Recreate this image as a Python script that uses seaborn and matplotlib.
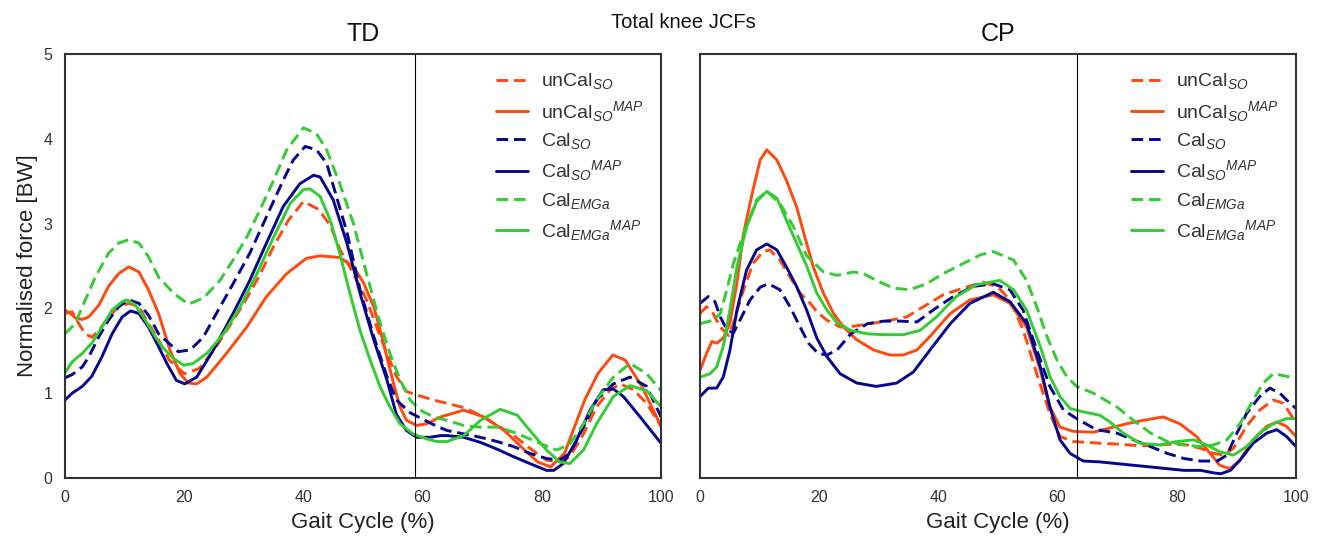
import pandas as pd
import seaborn as sns
import matplotlib.pyplot as plt

# series order as in the legend
SERIES = ['unCal_SO', 'unCal_SO_MAP', 'Cal_SO', 'Cal_SO_MAP', 'Cal_EMGa', 'Cal_EMGa_MAP']
LABELS = [r'unCal$_{SO}$', r'unCal$_{SO}$$^{MAP}$', r'Cal$_{SO}$', r'Cal$_{SO}$$^{MAP}$',
          r'Cal$_{EMGa}$', r'Cal$_{EMGa}$$^{MAP}$']
COLORS = ['#ff4a0f', '#ff4a0f', '#06068f', '#06068f', '#33cc33', '#33cc33']
DASHED = [True, False, True, False, True, False]

PANELS = ['TD', 'CP']
TOE_OFF = [58.8, 63.3]
XTICKS = [0, 20, 40, 60, 80, 100]
YTICKS = [0, 1, 2, 3, 4, 5]

# ---- TD ----
td_uncal_so_x = [0, 1.2, 2.3, 3.4, 4.5, 5.7, 7.3, 9, 10.7, 12.4, 14, 15.7, 17.5, 20, 22.5, 25, 27.5, 30, 32.5, 35,
                 37.5, 40, 42.5, 44.5, 46.1, 48.4, 50.6, 52.3, 54, 55.6, 57.3, 59, 61.8, 64.1, 66.9, 69.7, 72.5,
                 75.3, 78, 80.8, 83, 84.7, 87, 89.2, 91.5, 93.1, 95.4, 97.6, 100]
td_uncal_so_y = [1.94, 1.96, 1.82, 1.70, 1.66, 1.74, 1.90, 2.02, 2.06, 2.02, 1.82, 1.63, 1.39, 1.23, 1.29, 1.51,
                 1.78, 2.06, 2.37, 2.73, 3.04, 3.26, 3.17, 2.98, 2.70, 2.41, 2.10, 1.78, 1.47, 1.20, 1.02, 0.98,
                 0.92, 0.88, 0.83, 0.74, 0.62, 0.50, 0.35, 0.21, 0.19, 0.25, 0.52, 0.84, 1.04, 1.11, 1.04, 0.88, 0.61]

td_uncal_map_x = [0, 0.9, 1.7, 2.9, 4, 5.7, 7.3, 9, 10.7, 12.4, 14, 15.7, 17.6, 19.3, 20.7, 22.1, 23.8, 27.1,
                  30.5, 33.8, 37.2, 40.5, 42.8, 46.1, 48.4, 50.1, 51.8, 52.9, 54, 55.1, 56.2, 57.3, 59, 60.7, 63,
                  66.9, 70.3, 73.7, 77.1, 79.3, 81.5, 83.8, 87.2, 89.4, 91.9, 94, 96.8, 100]
td_uncal_map_y = [1.98, 1.94, 1.89, 1.87, 1.90, 2.04, 2.26, 2.41, 2.49, 2.43, 2.22, 1.94, 1.51, 1.23, 1.12, 1.11,
                  1.19, 1.47, 1.78, 2.14, 2.41, 2.59, 2.62, 2.60, 2.49, 2.30, 2.02, 1.74, 1.43, 1.12, 0.84, 0.68,
                  0.62, 0.64, 0.72, 0.80, 0.72, 0.56, 0.33, 0.19, 0.13, 0.29, 0.92, 1.23, 1.45, 1.39, 1.08, 0.61]

td_cal_so_x = [0, 1.2, 2.9, 4, 5.7, 7.3, 9, 10.7, 12.4, 14, 15.7, 17.1, 19, 21, 23.2, 25.4, 28.2, 31, 33.8, 36.6,
               38.3, 40.3, 42.2, 43.9, 45, 47.3, 49.5, 51.8, 54, 55.6, 57.9, 60.1, 62.4, 64.1, 66.9, 69.7, 72.5,
               75.3, 78, 80.8, 83, 84.7, 87, 89.2, 92, 94.8, 97.6, 100]
td_cal_so_y = [1.18, 1.22, 1.31, 1.43, 1.67, 1.86, 2.02, 2.10, 2.06, 1.92, 1.70, 1.61, 1.49, 1.51, 1.66, 1.94,
               2.29, 2.65, 3.08, 3.51, 3.75, 3.91, 3.87, 3.71, 3.45, 2.90, 2.22, 1.67, 1.20, 0.92, 0.77, 0.69,
               0.61, 0.56, 0.52, 0.48, 0.43, 0.37, 0.29, 0.23, 0.21, 0.29, 0.60, 0.92, 1.11, 1.19, 1.08, 0.72]

td_cal_map_x = [0, 1.2, 2.9, 4.5, 6.2, 7.9, 9.6, 11, 12.4, 14, 15.7, 17.1, 18.7, 20.1, 22.1, 24.9, 28.2, 31, 33.8,
                36.6, 39.4, 41.7, 42.8, 45, 47.3, 49.5, 51.8, 54, 55.6, 57.3, 59, 61.2, 63, 64.1, 66.9, 69.7, 72.5,
                75.3, 78, 80.8, 82, 83.6, 85.8, 88.1, 90.3, 92, 93.7, 96.5, 100]
td_cal_map_y = [0.92, 1.00, 1.08, 1.20, 1.43, 1.70, 1.90, 1.97, 1.94, 1.78, 1.55, 1.35, 1.15, 1.11, 1.19, 1.51,
                1.94, 2.33, 2.77, 3.20, 3.47, 3.57, 3.55, 3.28, 2.77, 2.18, 1.63, 1.16, 0.75, 0.56, 0.48, 0.48,
                0.50, 0.50, 0.48, 0.42, 0.34, 0.25, 0.17, 0.09, 0.09, 0.17, 0.44, 0.80, 1.04, 1.05, 0.96, 0.72, 0.41]

td_emg_x = [0, 1.7, 3.4, 5.1, 7.3, 9, 10.7, 12.4, 14, 15.7, 18.2, 20.7, 23.2, 26, 28.2, 30.5, 32.7, 35, 37.2, 40,
            42.2, 43.9, 46.1, 48.4, 50.6, 52.9, 54.5, 56.2, 57.9, 59.6, 61.8, 64.1, 66.9, 69.7, 72.5, 75.3, 78,
            80.3, 82.5, 84.7, 87, 89.2, 92, 94.8, 97.6, 100]
td_emg_y = [1.70, 1.82, 2.10, 2.37, 2.65, 2.77, 2.81, 2.77, 2.61, 2.37, 2.18, 2.05, 2.12, 2.33, 2.57, 2.84, 3.16,
            3.51, 3.87, 4.13, 4.06, 3.87, 3.47, 3.00, 2.41, 1.82, 1.47, 1.16, 0.92, 0.80, 0.72, 0.68, 0.62, 0.60,
            0.60, 0.54, 0.46, 0.39, 0.33, 0.40, 0.64, 0.92, 1.19, 1.35, 1.23, 1.03]

td_emg_map_x = [0, 1.2, 2.9, 4.5, 6.2, 7.9, 9.6, 10.4, 11.8, 13.5, 15.2, 16.5, 18.2, 19.9, 21.5, 23.8, 26.6, 29.4,
                32.2, 35, 37.8, 40, 41.1, 42.8, 44.5, 46.1, 47.8, 49.5, 51.2, 52.9, 54.5, 56.2, 58.4, 60.7, 62.4,
                64.1, 66.9, 69.7, 73, 75.9, 78, 80.8, 83, 84.7, 87, 89.2, 92, 94.8, 97.6, 100]
td_emg_map_y = [1.24, 1.37, 1.47, 1.59, 1.78, 1.98, 2.08, 2.10, 2.04, 1.86, 1.66, 1.53, 1.41, 1.33, 1.35, 1.47,
                1.70, 2.02, 2.41, 2.84, 3.24, 3.40, 3.41, 3.32, 3.04, 2.65, 2.18, 1.74, 1.39, 1.07, 0.84, 0.64,
                0.52, 0.46, 0.43, 0.43, 0.50, 0.68, 0.81, 0.74, 0.56, 0.33, 0.19, 0.17, 0.33, 0.64, 0.96, 1.09,
                1.03, 0.84]

# ---- CP ----
cp_uncal_so_x = [0, 1.1, 2.2, 3.4, 4.8, 5.6, 7.3, 8.9, 10.6, 11.7, 13.4, 15.1, 16.8, 18.5, 19.6, 21.3, 23.5, 25.8,
                 28.6, 31.9, 34.7, 37.5, 40.8, 44.2, 47.5, 50, 52, 54.2, 56.5, 58.7, 60.4, 62.6, 67.1, 69.9, 73.8,
                 77.2, 79.4, 81.7, 84, 86.2, 87.9, 89.5, 91.7, 93.9, 96.2, 97.9, 100]
cp_uncal_so_y = [1.94, 2.02, 1.94, 1.78, 1.68, 1.82, 2.22, 2.53, 2.67, 2.69, 2.57, 2.37, 2.18, 2.06, 1.96, 1.86,
                 1.78, 1.79, 1.82, 1.86, 1.90, 2.02, 2.16, 2.24, 2.31, 2.25, 2.10, 1.75, 1.23, 0.76, 0.49, 0.43,
                 0.41, 0.40, 0.38, 0.39, 0.40, 0.39, 0.35, 0.29, 0.27, 0.35, 0.61, 0.80, 0.92, 0.88, 0.65]

cp_uncal_map_x = [0, 1.1, 2, 2.8, 3.9, 5, 6.2, 7.3, 8.9, 10.1, 11.2, 12.9, 14.5, 16.2, 17.6, 19, 20.7, 22.4, 24.1,
                  26.3, 29.1, 31.9, 34.1, 36.4, 38.6, 42, 45.3, 49.2, 52, 54.8, 57.1, 58.7, 60.4, 62.6, 66, 68.8,
                  71.6, 74.4, 77.7, 80.5, 83.3, 85.6, 87.2, 88.9, 90.6, 92.8, 95.1, 96.8, 98.4, 100]
cp_uncal_map_y = [1.27, 1.47, 1.61, 1.59, 1.65, 1.82, 2.30, 2.88, 3.40, 3.75, 3.87, 3.75, 3.51, 3.20, 2.84, 2.49,
                  2.18, 1.94, 1.78, 1.63, 1.51, 1.45, 1.45, 1.51, 1.67, 1.94, 2.10, 2.16, 2.06, 1.78, 1.27, 0.84,
                  0.60, 0.55, 0.54, 0.59, 0.64, 0.68, 0.72, 0.64, 0.49, 0.29, 0.15, 0.11, 0.21, 0.45, 0.61, 0.66,
                  0.61, 0.49]

cp_cal_so_x = [0, 1.4, 2.5, 3.4, 4.5, 5.6, 6.7, 8.4, 10.1, 11.5, 13.4, 15.1, 16.8, 18.2, 19.8, 21.3, 23, 25.3, 28.1,
               30.8, 33.6, 36.4, 39.1, 42.5, 45.9, 49.2, 52, 54.2, 56.5, 58.7, 61, 63.2, 66.5, 69.9, 72.7, 75.6,
               78.4, 81.2, 84, 86.8, 88.4, 90.1, 91.7, 93.9, 95.6, 97.3, 99, 100]
cp_cal_so_y = [2.06, 2.14, 2.08, 1.90, 1.75, 1.71, 1.86, 2.10, 2.25, 2.29, 2.22, 2.02, 1.78, 1.59, 1.47, 1.45,
               1.51, 1.70, 1.82, 1.85, 1.85, 1.84, 1.98, 2.14, 2.26, 2.29, 2.22, 1.98, 1.51, 1.08, 0.80, 0.70,
               0.57, 0.53, 0.45, 0.37, 0.29, 0.23, 0.20, 0.20, 0.27, 0.53, 0.76, 0.96, 1.06, 1.00, 0.88, 0.82]

cp_cal_map_x = [0, 1.4, 2.8, 3.9, 5, 6.2, 7.8, 9.5, 11.2, 12.9, 14.5, 16.2, 17.9, 19.6, 21.3, 23.5, 26.3, 29.6, 33,
                35.8, 38.6, 42, 45.3, 49.2, 52, 54.8, 57.1, 58.7, 60.4, 62.1, 64.3, 67.1, 69.9, 72.7, 75.6, 78.4,
                81.2, 84, 86.2, 87.4, 89, 90.6, 92.8, 95.1, 96.8, 98.4, 100]
cp_cal_map_y = [0.96, 1.06, 1.06, 1.19, 1.50, 1.98, 2.45, 2.69, 2.76, 2.69, 2.49, 2.26, 1.98, 1.65, 1.43, 1.23,
                1.12, 1.08, 1.12, 1.25, 1.51, 1.82, 2.06, 2.19, 2.08, 1.82, 1.31, 0.84, 0.45, 0.29, 0.20, 0.19,
                0.17, 0.15, 0.13, 0.11, 0.09, 0.09, 0.06, 0.05, 0.09, 0.21, 0.41, 0.53, 0.57, 0.49, 0.37]

cp_emg_x = [0, 2.2, 3.4, 4.5, 5.6, 7.3, 9.5, 11.2, 13.4, 15.7, 17.9, 20.7, 23, 25.8, 27.4, 29.6, 32.4, 35.2, 38,
            40.8, 44.2, 47, 49.2, 52.6, 54.8, 56.5, 58.2, 59.9, 61.5, 63.2, 66, 69.9, 72.7, 75.6, 78.4, 81.2, 84,
            86.2, 88.4, 90.6, 92.8, 94.5, 96.2, 98.4, 100]
cp_emg_y = [1.82, 1.86, 1.94, 2.22, 2.53, 2.88, 3.28, 3.38, 3.24, 2.96, 2.62, 2.43, 2.39, 2.43, 2.41, 2.33, 2.24,
            2.22, 2.29, 2.41, 2.53, 2.63, 2.67, 2.57, 2.33, 2.02, 1.67, 1.39, 1.20, 1.08, 1.00, 0.84, 0.68, 0.53,
            0.43, 0.39, 0.37, 0.39, 0.45, 0.64, 0.92, 1.12, 1.23, 1.20, 1.17]

cp_emg_map_x = [0, 1.7, 2.8, 3.9, 5, 6.2, 7.8, 9.5, 11.2, 12.9, 14.5, 16.2, 17.9, 19.6, 21.3, 23, 25.3, 28.1, 30.8,
                34.1, 36.9, 39.7, 43, 46.4, 50.3, 52.6, 54.8, 57.1, 58.7, 60.4, 62.1, 64.3, 67.1, 68.8, 71, 73.8,
                77.2, 80, 82.8, 85, 87.2, 89.5, 91.7, 93.9, 96.2, 98.4, 100]
cp_emg_map_y = [1.19, 1.23, 1.31, 1.55, 1.98, 2.49, 2.96, 3.26, 3.38, 3.30, 3.04, 2.77, 2.50, 2.18, 1.98, 1.83,
                1.74, 1.70, 1.69, 1.69, 1.74, 1.90, 2.14, 2.28, 2.33, 2.22, 1.98, 1.55, 1.20, 0.96, 0.82, 0.78,
                0.74, 0.66, 0.53, 0.41, 0.39, 0.43, 0.45, 0.39, 0.31, 0.27, 0.37, 0.53, 0.64, 0.70, 0.70]

DATA = {
    'TD': [(td_uncal_so_x, td_uncal_so_y), (td_uncal_map_x, td_uncal_map_y), (td_cal_so_x, td_cal_so_y),
           (td_cal_map_x, td_cal_map_y), (td_emg_x, td_emg_y), (td_emg_map_x, td_emg_map_y)],
    'CP': [(cp_uncal_so_x, cp_uncal_so_y), (cp_uncal_map_x, cp_uncal_map_y), (cp_cal_so_x, cp_cal_so_y),
           (cp_cal_map_x, cp_cal_map_y), (cp_emg_x, cp_emg_y), (cp_emg_map_x, cp_emg_map_y)],
}


def build_frame():
    rows = []
    for panel in PANELS:
        for label, (xs, ys) in zip(LABELS, DATA[panel]):
            for x, y in zip(xs, ys):
                rows.append((panel, label, x, y))
    return pd.DataFrame(rows, columns=['panel', 'series', 'gait', 'force'])


if __name__ == "__main__":
    df = build_frame()
    sns.set_theme(style="white")
    plt.rcParams['font.family'] = ['Liberation Sans', 'DejaVu Sans']
    plt.rcParams['mathtext.fontset'] = 'custom'
    plt.rcParams['mathtext.rm'] = 'Liberation Sans'
    plt.rcParams['mathtext.it'] = 'Liberation Sans:italic'

    palette = dict(zip(LABELS, COLORS))
    dashes = {lab: ((4, 2) if d else '') for lab, d in zip(LABELS, DASHED)}

    fig = plt.figure(figsize=(13.22, 5.41), dpi=100)
    axes = [fig.add_axes([65 / 1322, 63 / 541, 596 / 1322, 424 / 541]),
            fig.add_axes([700 / 1322, 63 / 541, 596 / 1322, 424 / 541])]

    for i, (ax, panel) in enumerate(zip(axes, PANELS)):
        sub = df[df['panel'] == panel]
        sns.lineplot(data=sub, x='gait', y='force', hue='series', style='series',
                     hue_order=LABELS, style_order=LABELS, palette=palette, dashes=dashes,
                     estimator=None, sort=False, linewidth=2.1, ax=ax)
        ax.axvline(TOE_OFF[i], color='black', linewidth=0.8)
        ax.set_xlim(0, 100)
        ax.set_ylim(0, 5)
        ax.set_xticks(XTICKS)
        ax.set_yticks(YTICKS)
        ax.tick_params(length=0, pad=9, labelsize=11.5, labelcolor='#333333')
        for s in ax.spines.values():
            s.set_color('#333333')
            s.set_linewidth(1.5)
        ax.set_xlabel('Gait Cycle (%)', fontsize=16, labelpad=5, color='#222222')
        ax.set_title(panel, fontsize=18, pad=9, color='#111111')
        sns.move_legend(ax, 'upper right', frameon=False, title=None, fontsize=14,
                        handlelength=1.65, handletextpad=0.65, labelspacing=0.38,
                        borderaxespad=0.5, labelcolor='#333333')
        for line in ax.get_legend().get_lines():
            line.set_linewidth(2.1)

    axes[0].set_ylabel('Normalised force [BW]', fontsize=16, color='#222222')
    axes[1].set_ylabel('')
    axes[1].set_yticklabels([])

    fig.text(683 / 1322, 1 - 22 / 541, 'Total knee JCFs', ha='center', va='center', fontsize=14.5,
             color='#111111')

    fig.savefig('out.png', dpi=100)
